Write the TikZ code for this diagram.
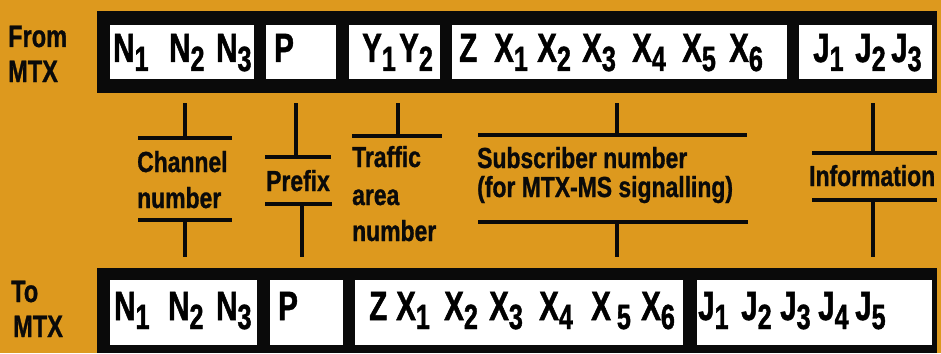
\documentclass[tikz,border=0pt]{standalone}
\usepackage{fontspec}
\newfontfamily\bigf[FakeStretch=0.72,FakeBold=1.2]{Liberation Sans}
\newfontfamily\lblf[FakeStretch=0.79,FakeBold=1]{Liberation Sans}
\newfontfamily\sidef[FakeStretch=0.76,FakeBold=1]{Liberation Sans}
\definecolor{bgorange}{RGB}{221,153,30}
\definecolor{barblack}{RGB}{10,10,10}
\newcommand{\sbs}[1]{\raisebox{-9pt}{\fontsize{35}{35}\selectfont #1}}
\tikzset{
  bar/.style={fill=barblack, draw=none},
  field/.style={fill=white, draw=none},
  glyph/.style={font=\bigf\bfseries\fontsize{41}{41}\selectfont, inner sep=0pt, anchor=base west, text=black},
  lbl/.style={font=\lblf\bfseries\fontsize{29}{29}\selectfont, inner sep=0pt, anchor=base west, text=barblack},
  side/.style={font=\sidef\bfseries\fontsize{31}{31}\selectfont, inner sep=0pt, anchor=base west, text=barblack},
  brk/.style={line width=4pt, draw=barblack}
}
\begin{document}
\begin{tikzpicture}[x=1pt, y=-1pt]
\useasboundingbox (0,0) rectangle (941,353);
\fill[bgorange] (0,0) rectangle (941,353);

% bars
\path[bar] (97,11) rectangle (937,93);
\path[bar] (97,268) rectangle (937,353);

% top fields
\path[field] (110,25) rectangle (254,79);
\path[field] (266,25) rectangle (336,79);
\path[field] (349,25) rectangle (440,79);
\path[field] (452,25) rectangle (787,79);
\path[field] (799,25) rectangle (932,79);

% bottom fields
\path[field] (110,280) rectangle (257,345);
\path[field] (270,280) rectangle (343,345);
\path[field] (355,280) rectangle (683,345);
\path[field] (697,280) rectangle (932,345);

% side labels
\node[side] (from) at (8,47) {From};
\node[side] (mtxa) at (8,82) {MTX};
\node[side] (to) at (11,302) {To};
\node[side] (mtxb) at (13,337) {MTX};

% top glyphs
\node[glyph] (tn1) at (113,62) {N\sbs{1}};
\node[glyph] (tn2) at (169,62) {N\sbs{2}};
\node[glyph] (tn3) at (216,62) {N\sbs{3}};
\node[glyph] (tp)  at (274,62) {P};
\node[glyph] (ty1) at (362,62) {Y\sbs{1}};
\node[glyph] (ty2) at (399,62) {Y\sbs{2}};
\node[glyph] (tz)  at (459,62) {Z};
\node[glyph] (tx1) at (494,62) {X\sbs{1}};
\node[glyph] (tx2) at (537,62) {X\sbs{2}};
\node[glyph] (tx3) at (582,62) {X\sbs{3}};
\node[glyph] (tx4) at (632,62) {X\sbs{4}};
\node[glyph] (tx5) at (682,62) {X\sbs{5}};
\node[glyph] (tx6) at (729,62) {X\sbs{6}};
\node[glyph] (tj1) at (813,62) {J\sbs{1}};
\node[glyph] (tj2) at (855,62) {J\sbs{2}};
\node[glyph] (tj3) at (891,62) {J\sbs{3}};

% bottom glyphs
\node[glyph] (bn1) at (114,320) {N\sbs{1}};
\node[glyph] (bn2) at (168,320) {N\sbs{2}};
\node[glyph] (bn3) at (216,320) {N\sbs{3}};
\node[glyph] (bp)  at (278,320) {P};
\node[glyph] (bz)  at (369,320) {Z};
\node[glyph] (bx1) at (396,320) {X\sbs{1}};
\node[glyph] (bx2) at (444,320) {X\sbs{2}};
\node[glyph] (bx3) at (489,320) {X\sbs{3}};
\node[glyph] (bx4) at (539,320) {X\sbs{4}};
\node[glyph] (bx5) at (591,320) {X\kern6pt\sbs{5}};
\node[glyph] (bx6) at (641,320) {X\sbs{6}};
\node[glyph] (bj1) at (698,320) {J\sbs{1}};
\node[glyph] (bj2) at (741,320) {J\sbs{2}};
\node[glyph] (bj3) at (780,320) {J\sbs{3}};
\node[glyph] (bj4) at (818,320) {J\sbs{4}};
\node[glyph] (bj5) at (855,320) {J\sbs{5}};

% labels
\node[lbl] (chan1) at (137,172) {Channel};
\node[lbl] (chan2) at (137,208) {number};
\node[lbl] (pref)  at (266,191) {Prefix};
\node[lbl] (traf1) at (352,167) {Traffic};
\node[lbl] (traf2) at (352,205) {area};
\node[lbl] (traf3) at (352,241) {number};
\node[lbl] (subs1) at (477,168) {Subscriber number};
\node[lbl] (subs2) at (477,197) {(for MTX-MS signalling)};
\node[lbl] (info)  at (809,186) {Information};

% brackets: Channel number
\draw[brk] (185,103) -- (185,138);
\draw[brk] (138,138) -- (232,138);
\draw[brk] (138,220) -- (232,220);
\draw[brk] (185,220) -- (185,257);
% Prefix
\draw[brk] (296,103) -- (296,157);
\draw[brk] (265,157) -- (331,157);
\draw[brk] (265,204) -- (332,204);
\draw[brk] (302,204) -- (302,257);
% Traffic area number
\draw[brk] (398,103) -- (398,136);
\draw[brk] (352,136) -- (442,136);
% Subscriber number
\draw[brk] (617,103) -- (617,135);
\draw[brk] (478,135) -- (747,135);
\draw[brk] (478,222) -- (748,222);
\draw[brk] (617,222) -- (617,257);
% Information
\draw[brk] (873,103) -- (873,153);
\draw[brk] (812,153) -- (937,153);
\draw[brk] (812,200) -- (937,200);
\draw[brk] (873,200) -- (873,257);
\end{tikzpicture}
\end{document}
